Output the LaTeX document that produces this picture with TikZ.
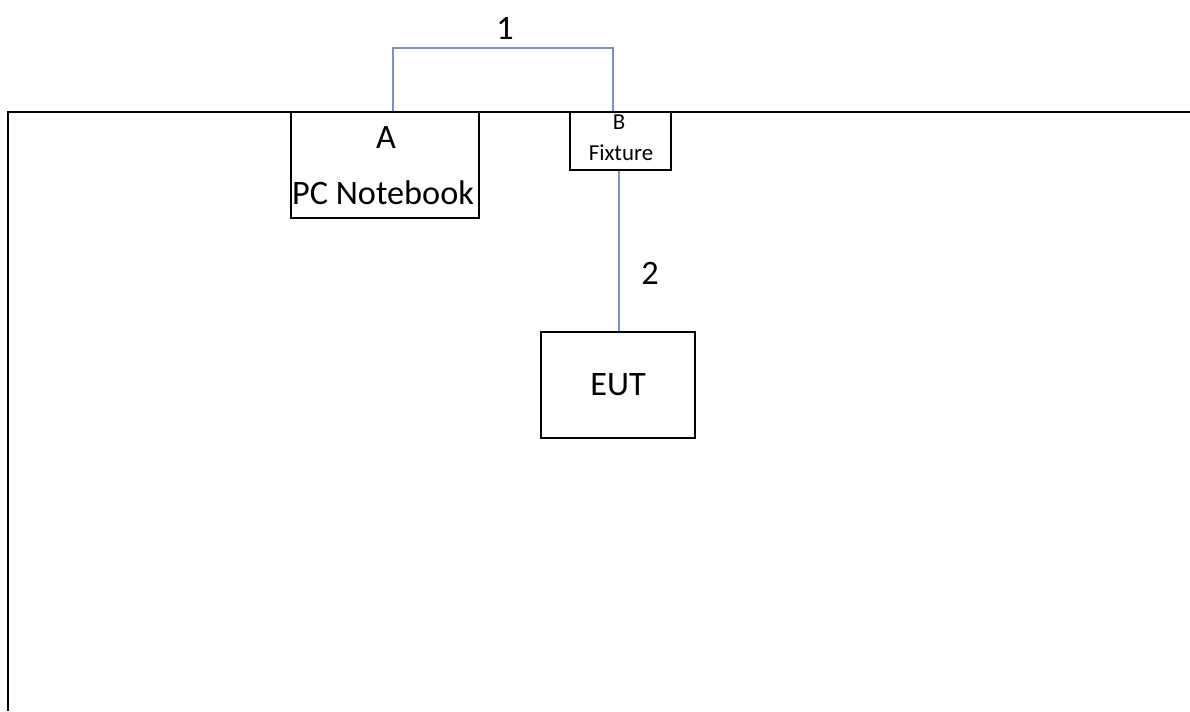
\documentclass[tikz,border=0pt]{standalone}
\usepackage{fontspec}
\setmainfont{Carlito}
\usetikzlibrary{positioning}
\definecolor{cable}{RGB}{118,146,196}
\tikzstyle{box}   = [rectangle, draw, line width=1.1pt, inner sep=0pt]
\tikzstyle{wire}  = [draw=cable, line width=0.9pt]
\tikzstyle{big}   = [font=\fontsize{19.5}{23}\selectfont, inner sep=0pt]
\tikzstyle{small} = [font=\fontsize{13}{15}\selectfont, inner sep=0pt]

\begin{document}
\begin{tikzpicture}[x=0.02cm, y=-0.02cm]
\useasboundingbox (0,0) rectangle (1190,711);
% table edge
\coordinate (table corner) at (8,112);
\coordinate (table end) at (1190,112);
\coordinate (table foot) at (8,711);
\draw [line width=1.1pt] (table foot) -- (table corner) -- (table end);
% devices
\node (pc) [box, minimum width=3.76cm, minimum height=2.12cm] at (385,165) {};
\node (fixture) [box, minimum width=2.02cm, minimum height=1.16cm] at (620.5,141) {};
\node (eut) [box, big, minimum width=3.08cm, minimum height=2.12cm] at (618,385) {EUT};
\node (pc id) [big] at (386,138) {A};
\node (pc name) [big] at (383,193) {PC Notebook};
\node (fixture id) [small] at (619,122) {B};
\node (fixture name) [small] at (621,153) {Fixture};
% cables
\coordinate (bend) at (505,48);
\draw [wire] ([xshift=0.16cm]pc.north) |- (bend) -| ([xshift=-0.15cm]fixture.north);
\draw [wire] ([xshift=-0.03cm]fixture.south) -- ([xshift=-0.03cm]fixture.south |- eut.north);
\node (cable 1) [big] at (505,28) {1};
\node (cable 2) [big] at (650,273) {2};
\end{tikzpicture}
\end{document}
